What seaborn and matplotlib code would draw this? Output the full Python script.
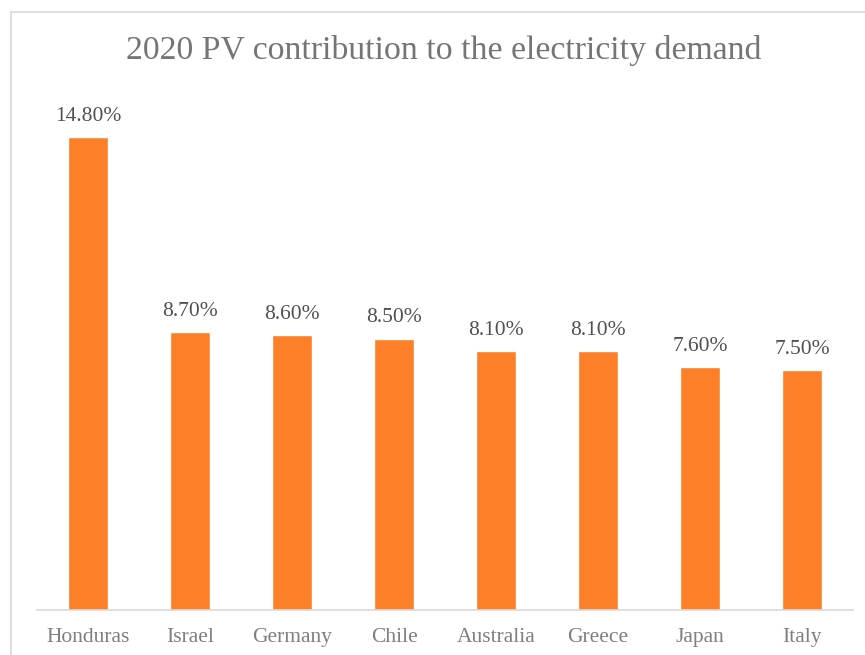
import matplotlib
matplotlib.use("Agg")
import matplotlib.pyplot as plt
import seaborn as sns
import pandas as pd
from matplotlib.patches import Rectangle

countries = ["Honduras", "Israel", "Germany", "Chile", "Australia", "Greece", "Japan", "Italy"]
values = [14.8, 8.7, 8.6, 8.5, 8.1, 8.1, 7.6, 7.5]
labels = ["14.80%", "8.70%", "8.60%", "8.50%", "8.10%", "8.10%", "7.60%", "7.50%"]
title = "2020 PV contribution to the electricity demand"

sns.set_style("white")
plt.rcParams['font.family'] = ['Liberation Serif', 'DejaVu Serif']

df = pd.DataFrame({"country": countries, "value": values})

W, H = 865, 655
fig = plt.figure(figsize=(W / 100, H / 100), dpi=100)
ax = fig.add_axes([37 / W, (H - 610) / H, (853 - 37) / W, (610 - 99) / H])

sns.barplot(data=df, x="country", y="value", color="#FD7F28", saturation=1,
            width=0.4, ax=ax)
ax.set_ylim(0, 16)
ax.set_xlim(-0.5, len(countries) - 0.5)

for i, (v, lab) in enumerate(zip(values, labels)):
    ax.annotate(lab, (i, v), xytext=(0, 8), textcoords="offset points",
                ha="center", va="bottom", fontsize=15.5, color="#505050")

ax.set_xlabel("")
ax.set_ylabel("")
ax.set_yticks([])
ax.tick_params(axis="x", length=0, labelsize=15.5, labelcolor="#7f7f7f", pad=13)
for s in ["top", "right", "left"]:
    ax.spines[s].set_visible(False)
ax.spines["bottom"].set_color("#d9d9d9")
ax.spines["bottom"].set_linewidth(1.2)

fig.text(444 / W, 1 - 51 / H, title, ha="center", va="center", fontsize=24.3,
         color="#757575")

fig.patches.append(Rectangle((11 / W, -0.05), 1.0, 1 - 12 / H + 0.05,
                             transform=fig.transFigure, fill=False,
                             edgecolor="#d9d9d9", linewidth=1.2))

fig.savefig("out.png", dpi=100)
